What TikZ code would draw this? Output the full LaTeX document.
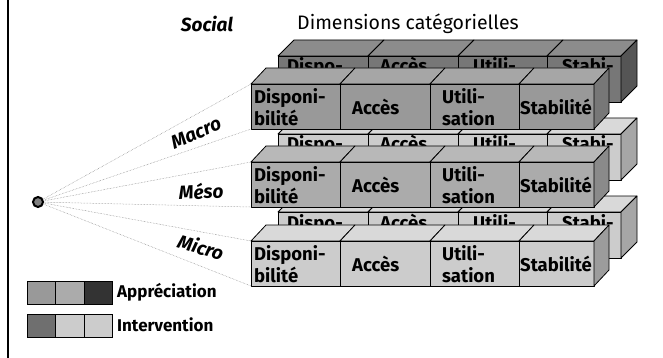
\documentclass[tikz,border=0pt]{standalone}
\usepackage{fontspec}
\setmainfont{Fira Sans}
\usetikzlibrary{calc}

\definecolor{macroB}{HTML}{777777}
\definecolor{macroBtop}{HTML}{8C8C8C}
\definecolor{macroBside}{HTML}{555555}
\definecolor{lightB}{HTML}{CCCCCC}
\definecolor{lightBtop}{HTML}{D9D9D9}
\definecolor{lightBside}{HTML}{A6A6A6}
\definecolor{macroF}{HTML}{999999}
\definecolor{macroFtop}{HTML}{A6A6A6}
\definecolor{macroFside}{HTML}{777777}
\definecolor{mesoF}{HTML}{ABABAB}
\definecolor{mesoFtop}{HTML}{B8B8B8}
\definecolor{mesoFside}{HTML}{8A8A8A}
\definecolor{microF}{HTML}{CCCCCC}
\definecolor{microFtop}{HTML}{D9D9D9}
\definecolor{microFside}{HTML}{9C9C9C}
\definecolor{darkA}{HTML}{333333}
\definecolor{darkI}{HTML}{6F6F6F}

\begin{document}
\begin{tikzpicture}[x=1pt,y=-1pt,
	face/.style={draw=black,line width=0.8pt,line join=round},
	cell/.style={font=\bfseries\fontsize{18.5}{22.5}\selectfont,inner sep=0pt,align=left},
	level/.style={font=\bfseries\itshape\fontsize{19}{20}\selectfont,inner sep=0pt},
	fan/.style={draw=gray,densely dotted,line width=0.5pt},
	legbox/.style={draw=black,line width=0.6pt,minimum width=28.3pt,minimum height=22.7pt,inner sep=0pt,anchor=north west},
	legtext/.style={font=\bfseries\fontsize{17}{20}\selectfont,inner sep=0pt,anchor=west}]

\useasboundingbox (0,0) rectangle (663,358);
\draw [line width=2pt] (8,0) -- (8,358);

\node [font=\bfseries\itshape\fontsize{19}{22}\selectfont] (social) at (207,24) {Social};
\node [font=\fontsize{19.5}{22}\selectfont,anchor=west,inner sep=0pt] (dims) at (297,24) {Dimensions catégorielles};

\node [circle,draw=black,line width=2pt,fill=gray,minimum size=10pt,inner sep=0pt] (hub) at (38,202) {};

\foreach \r/\y/\fc/\tc/\sc in {1/56/macroB/macroBtop/macroBside,2/134/lightB/lightBtop/lightBside,3/212/lightB/lightBtop/lightBside} {
	\foreach \a/\b/\dx/\txt [count=\i] in {0/90/9/Dispo-,90/180/12/Accès,180/269/15/Utili-,269/343/15/Stabi-} {
		\draw [face,fill=\tc] (278+\a,\y) -- (294+\a,\y-16) -- (294+\b,\y-16) -- (278+\b,\y) -- cycle;
		\draw [face,fill=\fc] (278+\a,\y) rectangle (278+\b,\y+46);
		\node [cell,anchor=base west] (b\r-\i) at (278+\a+\dx,\y+17) {\txt};
	}
	\draw [face,fill=\sc] (621,\y) -- (637,\y-16) -- (637,\y+30) -- (621,\y+46) -- cycle;
}

\foreach \r/\y/\fc/\tc/\sc in {1/84/macroF/macroFtop/macroFside,2/162/mesoF/mesoFtop/mesoFside,3/241/microF/microFtop/microFside} {
	\coordinate (r\r-nw) at (251,\y);
	\coordinate (r\r-sw) at (251,\y+45);
	\draw [fan] (hub) -- (r\r-nw);
	\draw [fan] (hub) -- (r\r-sw);
	\foreach \a/\b/\dx/\txt [count=\i] in {0/89/3/{Disponi-\\bilité},89/179/12/Accès,179/268/12/{Utili-\\sation},268/343/1/Stabilité} {
		\draw [face,fill=\tc] (251+\a,\y) -- (266+\a,\y-16) -- (266+\b,\y-16) -- (251+\b,\y) -- cycle;
		\draw [face,fill=\fc] (251+\a,\y) rectangle (251+\b,\y+45);
		\node [cell,anchor=west] (f\r-\i) at (251+\a+\dx,\y+23) {\txt};
	}
	\draw [face,fill=\sc] (594,\y) -- (609,\y-16) -- (609,\y+29) -- (594,\y+45) -- cycle;
}

\node [level,rotate=23] (macro) at (196,133) {Macro};
\node [level,rotate=3] (meso) at (201,191) {Méso};
\node [level,rotate=-17] (micro) at (201,247) {Micro};

\foreach \c [count=\i] in {macroF,mesoF,darkA} {
	\node [legbox,fill=\c] (la\i) at ({27+28.3*(\i-1)},281) {};
}
\foreach \c [count=\i] in {darkI,lightB,lightB} {
	\node [legbox,fill=\c] (li\i) at ({27+28.3*(\i-1)},314) {};
}
\node [legtext] (appr) at (117,292) {Appréciation};
\node [legtext] (interv) at (117,325) {Intervention};

\end{tikzpicture}
\end{document}
